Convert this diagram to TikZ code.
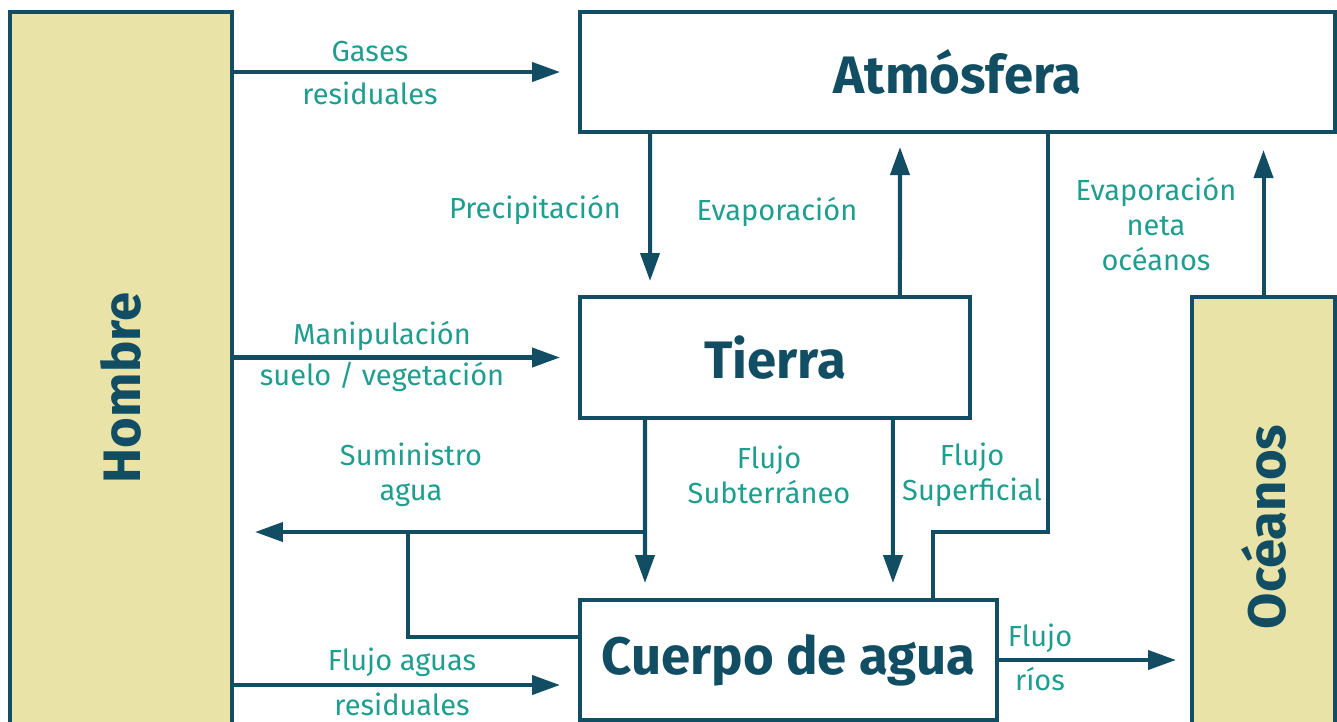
\documentclass[tikz,border=0pt]{standalone}
\usepackage{fontspec}
\setmainfont{Fira Sans}
\usetikzlibrary{arrows.meta,calc}
\definecolor{oscuro}{HTML}{124E63}
\definecolor{verde}{HTML}{1E9E8E}
\definecolor{arena}{HTML}{E9E3A8}
\begin{document}
\begin{tikzpicture}[x=0.02cm, y=-0.02cm,
		caja/.style={draw=oscuro, line width=2.3pt, inner sep=0pt, text=oscuro,
			font=\fontsize{30}{36}\selectfont\bfseries},
		flujo/.style={draw=oscuro, line width=2.3pt,
			-{Triangle[length=0.56cm, width=0.38cm]}},
		linea/.style={draw=oscuro, line width=2.3pt},
		etiq/.style={text=verde, align=center, inner sep=0pt,
			font=\fontsize{16.5}{20}\selectfont}]

			\useasboundingbox (0,0) rectangle (1337,721);

			% Cajas
			\node[caja, fill=arena, minimum width=4.44cm, minimum height=15.04cm] (hombre) at (121,388) {};
			\node[text=oscuro, font=\fontsize{30}{36}\selectfont\bfseries, rotate=90] (hombretxt) at (121,388) {Hombre};
			\node[caja, minimum width=15.1cm, minimum height=2.4cm] (atm) at (957.5,72) {Atmósfera};
			\node[caja, minimum width=7.8cm, minimum height=2.42cm] (tierra) at (775,357.5) {Tierra};
			\node[caja, minimum width=8.34cm, minimum height=2.4cm] (cuerpo) at (788.5,660) {Cuerpo de agua};
			\node[caja, fill=arena, minimum width=2.86cm, minimum height=9.2cm] (oceanos) at (1263.5,527) {};
			\node[text=oscuro, font=\fontsize{30}{36}\selectfont\bfseries, rotate=90] (oceanostxt) at (1263.5,527) {Océanos};

			% Puntos auxiliares
			\coordinate (rama) at ($([xshift=1.34cm]tierra.south west)+(0,112)$);
			\coordinate (retorno) at ($(rama)+(-237,0)$);
			\coordinate (aguas) at ($(cuerpo.west)+(0,25)$);

			% Flechas del hombre
			\draw[flujo, shorten >=0.36cm] (hombre.east |- atm.west) -- (atm.west);
			\draw[flujo, shorten >=0.36cm] (hombre.east |- tierra.west) -- (tierra.west);
			\draw[flujo, shorten >=0.36cm] (hombre.east |- aguas) -- (aguas);

			% Atmósfera y tierra
			\draw[flujo, shorten >=0.28cm] ([xshift=1.44cm]atm.south west) -- ([xshift=1.44cm]tierra.north west);
			\draw[flujo, shorten >=0.26cm] ([xshift=6.44cm]tierra.north west) -- ([xshift=6.44cm]atm.south west);
			\draw[linea] ([xshift=9.4cm]atm.south west) -- ++(0,398) -| ([xshift=7.1cm]cuerpo.north west);
			\draw[flujo, shorten >=0.32cm] (oceanos.north) -- (oceanos.north |- atm.south);

			% Tierra y cuerpo de agua
			\draw[flujo, shorten >=0.3cm] ([xshift=1.34cm]tierra.south west) -- ([xshift=1.34cm]cuerpo.north west);
			\draw[flujo, shorten >=0.3cm] ([xshift=6.3cm]tierra.south west) -- ([xshift=6.3cm]cuerpo.north west);
			\draw[flujo, shorten >=0.42cm] (rama) -- (rama -| hombre.east);
			\draw[linea] ($(cuerpo.west)+(0,-23)$) -| (retorno);
			\draw[flujo, shorten >=0.28cm] (cuerpo.east) -- (cuerpo.east -| oceanos.west);

			% Etiquetas
			\node[etiq] (gases) at (370,52) {Gases};
			\node[etiq] (gasesres) at (370,93) {residuales};
			\node[etiq] (precip) at (535,210) {Precipitación};
			\node[etiq] (evap) at (777,212) {Evaporación};
			\node[etiq] (evapneta) at (1156,224) {Evaporación\\neta\\océanos};
			\node[etiq] (manip) at (382,336) {Manipulación};
			\node[etiq] (manipsuelo) at (382,377) {suelo / vegetación};
			\node[etiq] (sumin) at (411,475) {Suministro\\agua};
			\node[etiq] (subter) at (769,475) {Flujo\\Subterráneo};
			\node[etiq] (superf) at (972,475) {Flujo\\Superficial};
			\node[etiq] (flaguas) at (402,662) {Flujo aguas};
			\node[etiq] (flaguasres) at (402,704) {residuales};
			\node[etiq] (flrios) at (1040,638) {Flujo};
			\node[etiq] (flriosb) at (1040,679) {ríos};

		\end{tikzpicture}
\end{document}
